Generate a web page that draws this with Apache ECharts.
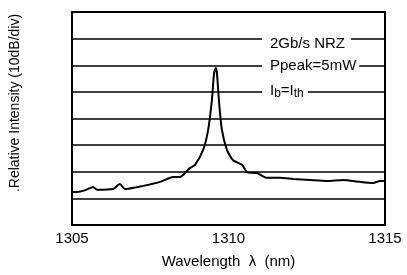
<!DOCTYPE html>
<html>
<head>
<meta charset="utf-8">
<script src="https://cdn.jsdelivr.net/npm/echarts@6/dist/echarts.min.js"></script>
<style>
  html, body { margin: 0; padding: 0; background: #fff; }
  #chart { width: 407px; height: 275px; }
</style>
</head>
<body>
<div id="chart"></div>
<script>
// wavelength (nm) and relative intensity (dB above bottom of frame)
const wavelength = [1305.00, 1305.16, 1305.45, 1305.67, 1305.80, 1306.31, 1306.53, 1306.69,
  1307.27, 1307.81, 1308.23, 1308.45, 1308.77, 1308.93, 1309.19, 1309.35, 1309.47, 1309.54,
  1309.59, 1309.63, 1309.70, 1309.79, 1309.95, 1310.14, 1310.43, 1310.59, 1310.91, 1311.23,
  1311.65, 1312.06, 1312.60, 1313.15, 1313.66, 1314.20, 1314.62, 1314.84, 1315.00]
const intensity = [12.4, 12.4, 13.2, 14.3, 13.2, 13.5, 15.4, 13.5,
  14.7, 16.2, 18.0, 18.0, 21.4, 22.6, 28.2, 35.7, 47.0, 57.1,
  59.0, 57.1, 45.9, 35.7, 28.2, 24.4, 22.6, 19.9, 19.5, 17.7,
  17.7, 17.3, 16.9, 16.5, 16.9, 16.2, 15.8, 16.5, 16.5]
const xTicks = [1305, 1310, 1315]
const notes = ['2Gb/s NRZ', 'Ppeak=5mW', '{a|I}{s|b}{a|=I}{s|th}']

const chart = echarts.init(document.getElementById('chart'))
const font = 'Liberation Sans, Arial, sans-serif'

chart.setOption({
  animation: false,
  grid: {
    left: 72, right: 22, top: 12, bottom: 50,
    outerBoundsMode: 'none',
    containLabel: false,
    show: true,
    borderColor: '#000',
    borderWidth: 2
  },
  xAxis: {
    type: 'value',
    min: xTicks[0],
    max: xTicks[xTicks.length - 1],
    interval: 5,
    name: 'Wavelength  λ  (nm)',
    nameLocation: 'middle',
    nameGap: 29,
    nameTextStyle: { color: '#000', fontSize: 15, fontFamily: font },
    axisLine: { show: false },
    axisTick: { show: false },
    splitLine: { show: false },
    axisLabel: { color: '#000', fontSize: 15, fontFamily: font, margin: 6, formatter: v => String(v) }
  },
  yAxis: {
    type: 'value',
    min: 0,
    max: 80,
    interval: 10,
    axisLine: { show: false },
    axisTick: { show: false },
    axisLabel: { show: false },
    splitLine: { lineStyle: { color: '#000', width: 1.5 } }
  },
  graphic: [
    {
      type: 'text', x: 15, y: 103, rotation: Math.PI / 2, z: 100,
      style: { text: '.Relative Intensity (10dB/div)', fill: '#000', font: '14px ' + font, align: 'center', verticalAlign: 'middle' }
    },
    {
      type: 'text', left: 262, top: 35, z: 100,
      style: { text: notes[0], fill: '#000', font: '15px ' + font, backgroundColor: '#fff', padding: [1, 6, 1, 8] }
    },
    {
      type: 'text', left: 262, top: 57, z: 100,
      style: { text: notes[1], fill: '#000', font: '15px ' + font, backgroundColor: '#fff', padding: [1, 3, 1, 8] }
    },
    {
      type: 'text', left: 262, top: 81, z: 100,
      style: {
        text: notes[2], backgroundColor: '#fff', padding: [1, 4, 1, 8],
        rich: {
          a: { fill: '#000', font: '15px ' + font },
          s: { fill: '#000', font: '12px ' + font, padding: [6, 0, 0, 0] }
        }
      }
    }
  ],
  series: [{
    type: 'line',
    data: wavelength.map((w, i) => [w, intensity[i]]),
    showSymbol: false,
    smooth: 0.2,
    lineStyle: { color: '#000', width: 2 }
  }]
})
</script>
</body>
</html>
